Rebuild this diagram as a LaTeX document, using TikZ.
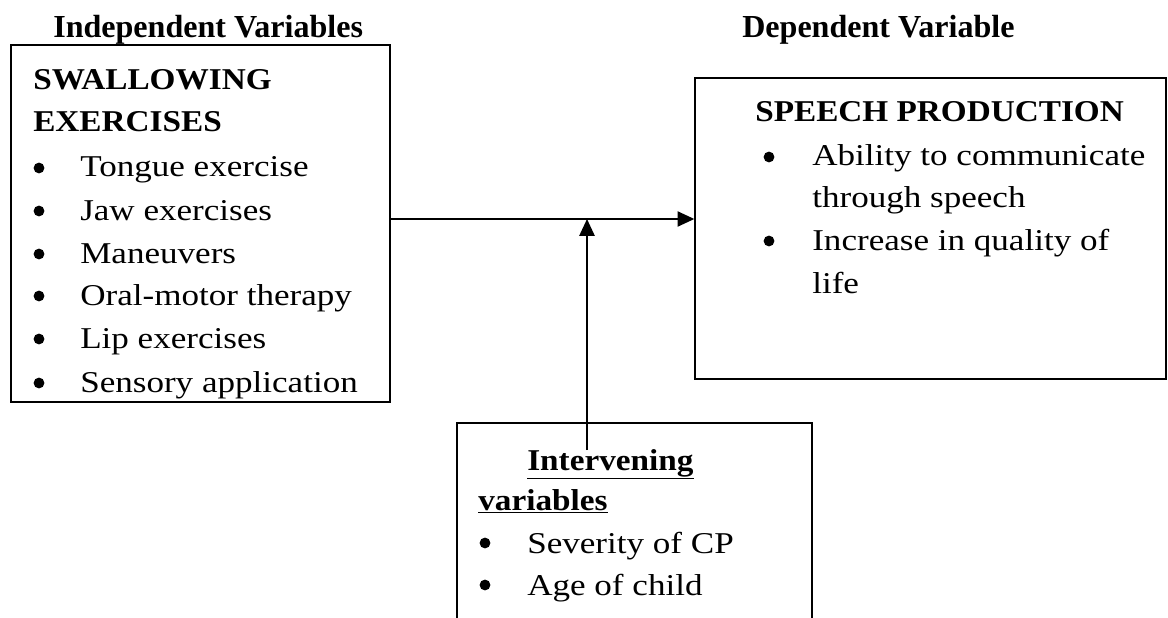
\documentclass[tikz,border=0pt]{standalone}
\usepackage{fontspec}
\setmainfont{Liberation Serif}[FakeStretch=1.16]
\newfontfamily\headfont{Liberation Serif}
\newfontfamily\titlefont{Liberation Serif}[FakeStretch=1.1]
\usetikzlibrary{arrows.meta, positioning}

\tikzset{
  box/.style={draw, rectangle, line width=0.9pt, inner sep=0pt},
  heading/.style={font=\headfont\fontsize{22.8}{24}\selectfont\bfseries, anchor=base west, inner sep=0pt},
  title/.style={font=\titlefont\fontsize{21.5}{24}\selectfont\bfseries, anchor=base west, inner sep=0pt},
  item/.style={font=\fontsize{21.5}{24}\selectfont, anchor=base west, inner sep=0pt},
  dot/.style={circle, fill, inner sep=0pt, minimum size=0.27cm},
  arr/.style={-{Triangle[length=4.2mm, width=3.8mm]}, line width=1.2pt},
}

\begin{document}
\begin{tikzpicture}[x=0.025cm, y=-0.025cm]
            \useasboundingbox (0,0) rectangle (1168,617);
            % boxes
            \node[box, minimum width=9.475cm, minimum height=8.925cm] (indep) at (200.5,223.5) {};
            \node[box, minimum width=11.775cm, minimum height=7.525cm] (dep) at (930.5,228.5) {};
            \node[box, minimum width=8.875cm, minimum height=5.925cm] (interv) at (634.5,541.5) {};
            % headings
            \node[heading] (indephead) at (53,38) {Independent Variables};
            \node[heading] (dephead) at (742,38) {Dependent Variable};
            % independent variables
            \node[title] (swallow) at (33,90) {SWALLOWING};
            \node[title] (exer) at (33,132) {EXERCISES};
            \node[dot] (b1) at (39,168) {};
            \node[item] (tongue) at (80,177) {Tongue exercise};
            \node[dot] (b2) at (39,211) {};
            \node[item] (jaw) at (80,220) {Jaw exercises};
            \node[dot] (b3) at (39,254) {};
            \node[item] (man) at (80,263) {Maneuvers};
            \node[dot] (b4) at (39,296) {};
            \node[item] (oral) at (80,305) {Oral-motor therapy};
            \node[dot] (b5) at (39,339) {};
            \node[item] (lip) at (80,348) {Lip exercises};
            \node[dot] (b6) at (39,383) {};
            \node[item] (sens) at (80,392) {Sensory application};
            % dependent variable
            \node[title] (speech) at (755,122) {SPEECH PRODUCTION};
            \node[dot] (b7) at (769,157) {};
            \node[item] (abil) at (812,165) {Ability to communicate};
            \node[item] (thru) at (812,207) {through speech};
            \node[dot] (b8) at (769,241) {};
            \node[item] (incr) at (812,250) {Increase in quality of};
            \node[item] (life) at (812,293) {life};
            % intervening variables
            \node[title] (intv1) at (527,470) {\underline{Intervening}};
            \node[title] (intv2) at (478,510) {\underline{variables}};
            \node[dot] (b9) at (485,543) {};
            \node[item] (sev) at (527,553) {Severity of CP};
            \node[dot] (b10) at (485,585) {};
            \node[item] (age) at (527,595) {Age of child};
            % connectors
            \coordinate (join) at (587,219);
            \coordinate (ivstart) at (587,450);
            \draw[arr] (indep.east |- join) -- (dep.west |- join);
            \draw[arr] (ivstart) -- (join);
        \end{tikzpicture}
\end{document}
